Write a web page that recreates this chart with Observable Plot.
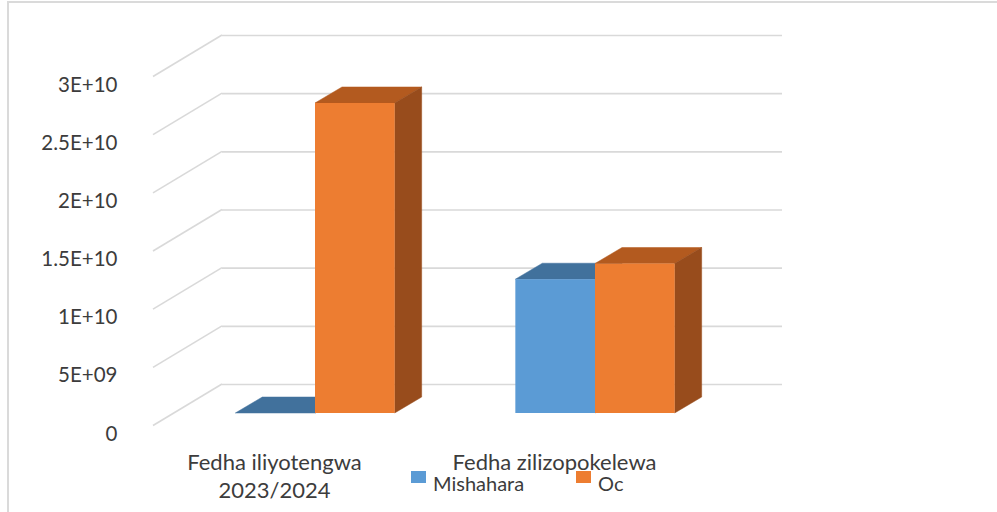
<!DOCTYPE html>
<html>
<head>
<meta charset="utf-8">
<script src="https://cdn.jsdelivr.net/npm/d3@7"></script>
<script src="https://cdn.jsdelivr.net/npm/@observablehq/plot@0.6"></script>
<style>
  html, body { margin: 0; padding: 0; background: #ffffff; }
  #wrap { position: relative; width: 997px; height: 512px; overflow: hidden; font-family: Lato, "Open Sans", sans-serif; }
  #border { position: absolute; left: 7px; top: 1px; width: 1100px; height: 600px; border: 2px solid #dadada; box-sizing: border-box; pointer-events: none; }
  #chart svg { display: block; }
  .legend-item { position: absolute; top: 470px; height: 24px; }
  .swatch { position: absolute; left: 0; top: 1px; width: 15px; height: 12px; }
  .legend-label { position: absolute; left: 22px; top: 5px; font-size: 20px; color: #3c3c3c; white-space: nowrap; line-height: 16px; }
</style>
</head>
<body>
<div id="wrap">
  <div id="chart"></div>
  <div id="legend"></div>
  <div id="border"></div>
</div>
<script>
// ---- data ----
const categories = ["Fedha iliyotengwa 2023/2024", "Fedha zilizopokelewa"];
const categoryLabels = ["Fedha iliyotengwa\n2023/2024", "Fedha zilizopokelewa"];
const series = ["Mishahara", "Oc"];
const mishahara = [0, 1.15e10];
const oc = [2.665e10, 1.285e10];
const yTicks = [0, 5e9, 1e10, 1.5e10, 2e10, 2.5e10, 3e10];
const yTickLabels = ["0", "5E+09", "1E+10", "1.5E+10", "2E+10", "2.5E+10", "3E+10"];
const seriesColors = ["#5B9BD5", "#ED7D31"];
const topColors = ["#41719C", "#B35A1F"];
const sideColors = ["#37618A", "#984C1C"];

// table built from the arrays
const seriesValues = [mishahara, oc];
const rows = [];
categories.forEach((c, ci) => {
  series.forEach((s, si) => {
    rows.push({category: c, series: s, si, value: seriesValues[si][ci]});
  });
});

// ---- 3D geometry (pixels) ----
const BAR_DX = 27, BAR_DY = -16;          // bar depth
const BACK_DX = 47, BACK_DY = -29;        // bar plane -> back wall
const FRONT_DX = -22, FRONT_DY = 12.5;    // bar plane -> front edge of floor
const BAR_FRAC = 0.2845;                  // bar width as fraction of band

function bars3d(data) {
  return Plot.barY(data, {
    x: "category", y1: 0, y2: "value",
    render: (index, scales, values, dims) => {
      const g = d3.create("svg:g");
      const bw = scales.x.bandwidth();
      const w = bw * BAR_FRAC;
      for (const i of index) {
        const d = data[i];
        const cx = scales.x(d.category) + bw / 2;
        const x0 = cx + (d.si - 1) * w, x1 = x0 + w;
        const yt = scales.y(d.value), yb = scales.y(0);
        // top face
        g.append("path")
          .attr("d", `M${x0},${yt}L${x1},${yt}L${x1 + BAR_DX},${yt + BAR_DY}L${x0 + BAR_DX},${yt + BAR_DY}Z`)
          .attr("fill", topColors[d.si]).attr("stroke", topColors[d.si]).attr("stroke-width", 0.5);
        // side face
        g.append("path")
          .attr("d", `M${x1},${yt}L${x1 + BAR_DX},${yt + BAR_DY}L${x1 + BAR_DX},${yb + BAR_DY}L${x1},${yb}Z`)
          .attr("fill", sideColors[d.si]).attr("stroke", sideColors[d.si]).attr("stroke-width", 0.5);
        // front face
        g.append("rect")
          .attr("x", x0).attr("y", yt).attr("width", w).attr("height", Math.max(0, yb - yt))
          .attr("fill", seriesColors[d.si]);
      }
      return g.node();
    }
  });
}

const sideWall = Plot.dot(yTicks, {
  y: d => d, frameAnchor: "left",
  render: (index, scales, values, dims) => {
    const g = d3.create("svg:g");
    const xl = dims.marginLeft;
    for (const i of index) {
      const y = values.y[i];
      g.append("line")
        .attr("x1", xl + FRONT_DX).attr("y1", y + FRONT_DY)
        .attr("x2", xl + BACK_DX).attr("y2", y + BACK_DY)
        .attr("stroke", "#d9d9d9").attr("stroke-width", 1.6);
    }
    return g.node();
  }
});

const chart = Plot.plot({
  width: 997,
  height: 512,
  marginLeft: 175,
  marginRight: 262,
  marginTop: 64,
  marginBottom: 99,
  x: {type: "band", domain: categories, padding: 0, axis: null},
  y: {domain: [0, 3e10], axis: null},
  style: {fontFamily: "Lato, 'Open Sans', sans-serif", background: "transparent", color: "#3c3c3c"},
  marks: [
    Plot.ruleY(yTicks, {dx: BACK_DX, dy: BACK_DY, stroke: "#d9d9d9", strokeWidth: 1.6}),
    sideWall,
    bars3d(rows),
    Plot.text(yTicks, {
      y: d => d, frameAnchor: "left", textAnchor: "end", dx: -58, dy: 20.5,
      text: (d, i) => yTickLabels[i], fontSize: 20.5, fill: "#3c3c3c"
    }),
    Plot.text(categories, {
      x: d => d, frameAnchor: "bottom", lineAnchor: "top", dx: -41, dy: 37,
      text: (d, i) => categoryLabels[i], fontSize: 22, lineHeight: 1.25, fill: "#3c3c3c"
    })
  ]
});
document.getElementById("chart").appendChild(chart);

// legend
const legend = document.getElementById("legend");
const legendLeft = [411, 576];
series.forEach((s, i) => {
  const item = document.createElement("div");
  item.className = "legend-item";
  item.style.left = legendLeft[i] + "px";
  const sw = document.createElement("div");
  sw.className = "swatch";
  sw.style.background = seriesColors[i];
  const lab = document.createElement("div");
  lab.className = "legend-label";
  lab.textContent = s;
  item.appendChild(sw);
  item.appendChild(lab);
  legend.appendChild(item);
});
</script>
</body>
</html>
